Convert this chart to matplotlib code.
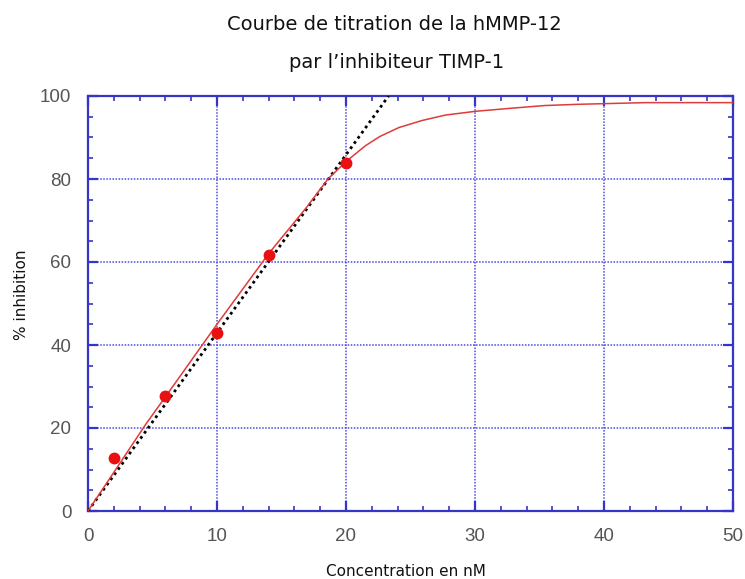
import matplotlib
matplotlib.use("Agg")
import matplotlib.pyplot as plt
from matplotlib.ticker import MultipleLocator

# Data
conc_points = [2, 6, 10, 14, 20]
inhib_points = [12.8, 27.7, 43.0, 61.7, 83.8]

fit_conc = [0, 2, 4.5, 6, 8.4, 10, 12, 14, 16.9, 18.6, 20, 21.5, 22.6, 24.1,
            25.9, 27.7, 30, 32.6, 35.4, 38, 43.2, 50]
fit_inhib = [0, 9.3, 21.0, 27.5, 38.0, 45.0, 53.5, 62.0, 73.0, 80.0, 84.2, 88.0,
             90.2, 92.4, 94.1, 95.4, 96.3, 97.0, 97.7, 98.0, 98.4, 98.4]

tangent_conc = [0, 23.3]
tangent_inhib = [0, 100]

x_ticks = [0, 10, 20, 30, 40, 50]
y_ticks = [0, 20, 40, 60, 80, 100]

title_lines = ["Courbe de titration de la hMMP-12", "par l\u2019inhibiteur TIMP-1"]
x_label = "Concentration en nM"
y_label = "% inhibition"

fig = plt.figure(figsize=(7.45, 5.79), dpi=100)
ax = fig.add_axes([88/745, 1 - 511/579, (733 - 88)/745, (511 - 96)/579])

blue = "#3535c8"
grid_blue = "#4a4ae0"

ax.set_xlim(0, 50)
ax.set_ylim(0, 100)
ax.set_xticks(x_ticks)
ax.set_yticks(y_ticks)
ax.xaxis.set_minor_locator(MultipleLocator(2))
ax.yaxis.set_minor_locator(MultipleLocator(5))

ax.grid(True, which="major", color=grid_blue, linestyle=(0, (1, 1)), linewidth=1.1)
ax.set_axisbelow(True)

for s in ax.spines.values():
    s.set_color(blue)
    s.set_linewidth(1.6)

ax.tick_params(which="both", direction="in", top=True, right=True, color=blue,
               labelcolor="#555555", labelsize=13.5)
ax.tick_params(which="major", length=7, width=1.6, pad=12)
ax.tick_params(which="minor", length=3.5, width=1.2)
for lab in ax.get_xticklabels() + ax.get_yticklabels():
    lab.set_family(["Liberation Sans", "DejaVu Sans"])

ax.plot(tangent_conc, tangent_inhib, color="black", linestyle=(0, (1, 1.3)),
        linewidth=2.0, zorder=3)
ax.plot(fit_conc, fit_inhib, color="#e03a3a", linewidth=1.1, zorder=4)
ax.plot(conc_points, inhib_points, linestyle="none", marker="o", markersize=7.5,
        color="#e81010", markeredgecolor="#e81010", zorder=5)

fig.text(394/745, 1 - 25/579, title_lines[0], ha="center", va="center",
         fontsize=14, color="#111111")
fig.text(397/745, 1 - 63/579, title_lines[1], ha="center", va="center",
         fontsize=14, color="#111111")
fig.text(406/745, 1 - 572/579, x_label, ha="center", va="center",
         fontsize=11, color="#111111")
fig.text(22/745, 1 - 295/579, y_label, ha="center", va="center",
         rotation=90, fontsize=11, color="#111111")

fig.savefig("out.png", dpi=100)
